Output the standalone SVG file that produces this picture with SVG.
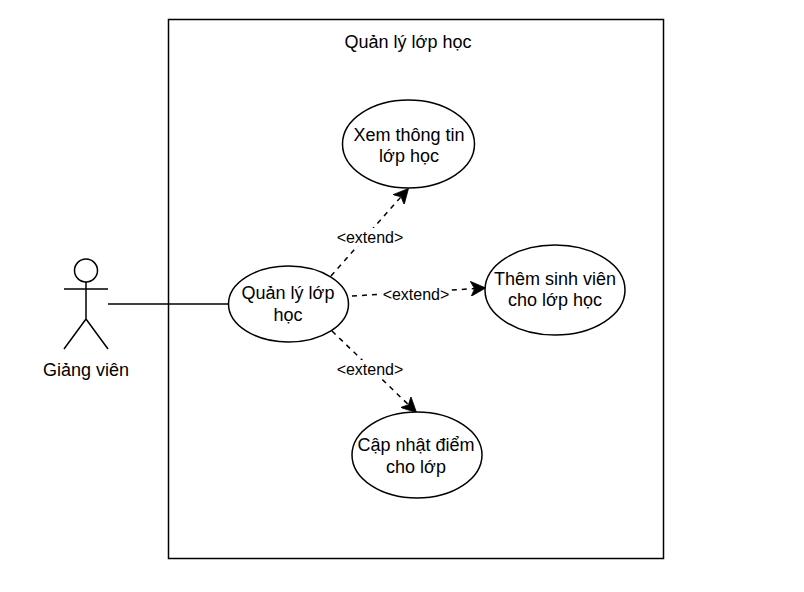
<svg xmlns="http://www.w3.org/2000/svg" width="804" height="592" viewBox="0 0 804 592">
<defs>
<marker id="arrow" viewBox="0 0 10 10" refX="9.500" refY="5" markerWidth="15" markerHeight="15" markerUnits="userSpaceOnUse" orient="auto"><path d="M0 0L10 5L0 10L2.500 5Z" fill="#000" stroke="#000" stroke-width="0.500"/></marker>
</defs>
<style>
text{font-family:"Liberation Sans",Arial,sans-serif;font-size:18px;fill:#000;text-anchor:middle}
.s{fill:none;stroke:#000;stroke-width:1.5}
.n{fill:#fff;stroke:#000;stroke-width:1.5}
.d{fill:none;stroke:#000;stroke-width:1.5;stroke-dasharray:5 5;marker-end:url(#arrow)}
.l{font-size:16px}
.b{fill:#fff;stroke:none}
</style>
<rect width="804" height="592" fill="#fff"/>
<g id="system">
<rect class="s" x="168.500" y="19.500" width="495" height="539" style="fill:#fff"/>
<text x="408" y="47.500">Quản lý lớp học</text>
</g>
<g id="connectors">
<path class="s" d="M108 304H228"/>
<path class="d" d="M331 276L408 189"/>
<path class="d" d="M352 296L485 288"/>
<path class="d" d="M332 331L416 412"/>
</g>
<g id="actor">
<circle class="s" cx="86" cy="270.500" r="11.500"/>
<path class="s" d="M86 282V319M64 289H108M86 319L64 349M86 319L108 349"/>
<text x="86" y="376">Giảng viên</text>
</g>
<g id="manage">
<ellipse class="n" cx="288.500" cy="304" rx="60" ry="38"/>
<text x="288" y="299">Quản lý lớp</text><text x="288" y="321">học</text>
</g>
<g id="view">
<ellipse class="n" cx="408.500" cy="144" rx="66" ry="44"/>
<text x="409" y="141">Xem thông tin</text><text x="409" y="162">lớp học</text>
</g>
<g id="add">
<ellipse class="n" cx="555" cy="290" rx="70" ry="45"/>
<text x="555" y="285">Thêm sinh viên</text><text x="555" y="306">cho lớp học</text>
</g>
<g id="grade">
<ellipse class="n" cx="417" cy="455" rx="65" ry="43"/>
<text x="416" y="451">Cập nhật điểm</text><text x="416" y="473">cho lớp</text>
</g>
<g id="labels">
<rect class="b" x="336" y="228" width="68" height="18"/><text class="l" x="370" y="242.500">&lt;extend&gt;</text>
<rect class="b" x="382" y="285" width="68" height="18"/><text class="l" x="416" y="299.500">&lt;extend&gt;</text>
<rect class="b" x="336" y="360" width="68" height="18"/><text class="l" x="370" y="374.500">&lt;extend&gt;</text>
</g>
</svg>
